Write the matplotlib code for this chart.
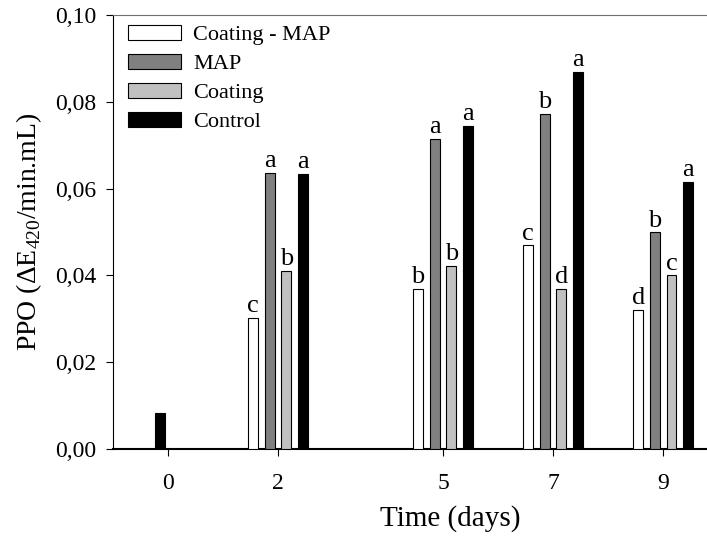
import numpy as np
import matplotlib
matplotlib.use("Agg")
import matplotlib.pyplot as plt

plt.rcParams['font.family'] = ['Liberation Serif', 'DejaVu Serif']
plt.rcParams['mathtext.fontset'] = 'custom'
plt.rcParams['mathtext.rm'] = 'Liberation Serif'

days = [0, 2, 5, 7, 9]
treatments = ['Coating - MAP', 'MAP', 'Coating', 'Control']
colors = ['white', '#808080', '#c0c0c0', 'black']

# PPO values per treatment (day 0 only control measured)
coating_map = [np.nan, 0.0302, 0.0369, 0.0469, 0.0320]
map_ = [np.nan, 0.0637, 0.0714, 0.0772, 0.0499]
coating = [np.nan, 0.0411, 0.0422, 0.0368, 0.0400]
control = [0.0083, 0.0633, 0.0744, 0.0868, 0.0616]
values = [coating_map, map_, coating, control]

letters_coating_map = ['', 'c', 'b', 'c', 'd']
letters_map = ['', 'a', 'a', 'b', 'b']
letters_coating = ['', 'b', 'b', 'd', 'c']
letters_control = ['', 'a', 'a', 'a', 'a']
letters = [letters_coating_map, letters_map, letters_coating, letters_control]

offsets = [-0.455, -0.15, 0.15, 0.455]
width = 0.18

fig = plt.figure(figsize=(7.07, 5.37), dpi=100)
# axes runs past the right edge of the figure (cropped like the original)
ax = fig.add_axes([113/707, 88/537, 674/707, 434/537])

for k in range(4):
    for i, d in enumerate(days):
        v = values[k][i]
        if np.isnan(v):
            continue
        x = d + offsets[k]
        if d == 0:
            x = d - 0.145
        ax.bar(x, v, width=width, color=colors[k], edgecolor='black', linewidth=0.8, zorder=3)
        if letters[k][i]:
            ax.text(x, v + 0.0002, letters[k][i], ha='center', va='bottom', fontsize=19)

handles = [plt.Rectangle((0, 0), 1, 1, facecolor=c, edgecolor='black', linewidth=0.8) for c in colors]
ax.legend(handles, treatments, loc='upper left', frameon=False, fontsize=16,
          handlelength=2.4, handleheight=0.65, labelspacing=0.39,
          borderaxespad=0, borderpad=0.2, handletextpad=0.55,
          bbox_to_anchor=(0.0155, 0.987))

ax.set_xlim(-1, 11.25)
ax.set_ylim(0, 0.10)
ax.set_xticks(days)
ax.set_yticks(np.arange(0, 0.101, 0.02))
ax.set_yticklabels([('%.2f' % t).replace('.', ',') for t in np.arange(0, 0.101, 0.02)])
ax.tick_params(labelsize=17, direction='out', length=5, width=0.8, pad=7)
ax.tick_params(axis='x', pad=12)
ax.spines['right'].set_visible(False)
ax.spines['top'].set_color('#707070')
ax.spines['bottom'].set_linewidth(1.5)
ax.spines['left'].set_linewidth(0.8)

ax.set_xlabel('Time (days)', fontsize=21, labelpad=8)
ax.set_ylabel('PPO (ΔE$_{420}$/min.mL)', fontsize=20, labelpad=8)

fig.savefig('out.png', dpi=100)
